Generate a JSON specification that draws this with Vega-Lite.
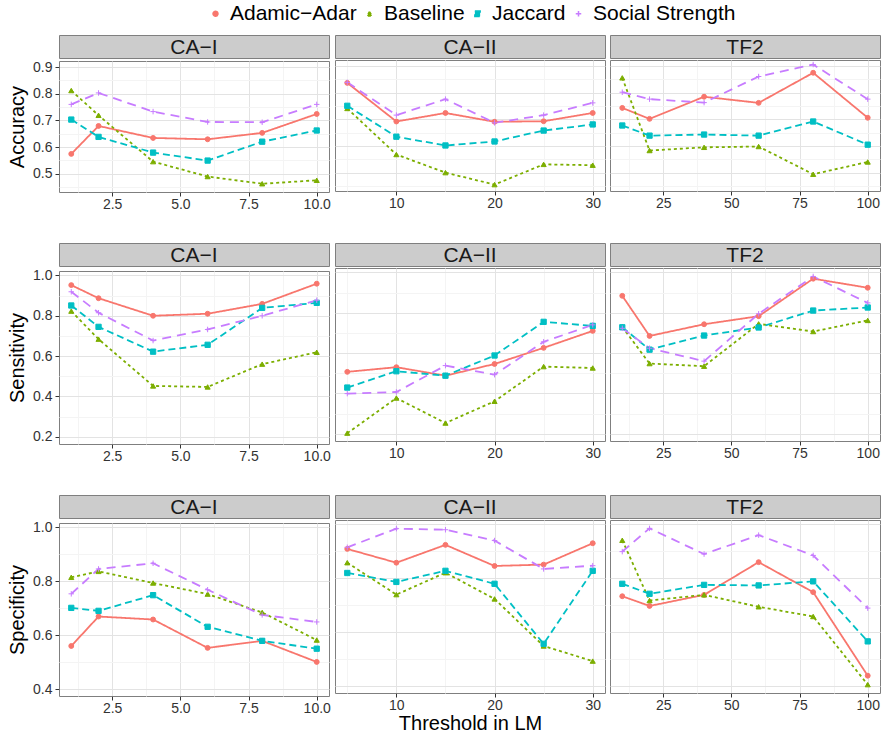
{
"$schema": "https://vega.github.io/schema/vega-lite/v6.json",
"padding": {"left": 7, "top": 3, "right": 2, "bottom": 2},
"background": "white",
"datasets": {"d": [
{"m":"Acc","s":"I","k":"Adamic−Adar","x":1,"v":0.574},{"m":"Acc","s":"I","k":"Adamic−Adar","x":2,"v":0.679},{"m":"Acc","s":"I","k":"Adamic−Adar","x":4,"v":0.634},{"m":"Acc","s":"I","k":"Adamic−Adar","x":6,"v":0.629},{"m":"Acc","s":"I","k":"Adamic−Adar","x":8,"v":0.653},{"m":"Acc","s":"I","k":"Adamic−Adar","x":10,"v":0.724},
{"m":"Acc","s":"I","k":"Baseline","x":1,"v":0.812},{"m":"Acc","s":"I","k":"Baseline","x":2,"v":0.719},{"m":"Acc","s":"I","k":"Baseline","x":4,"v":0.545},{"m":"Acc","s":"I","k":"Baseline","x":6,"v":0.489},{"m":"Acc","s":"I","k":"Baseline","x":8,"v":0.462},{"m":"Acc","s":"I","k":"Baseline","x":10,"v":0.475},
{"m":"Acc","s":"I","k":"Jaccard","x":1,"v":0.703},{"m":"Acc","s":"I","k":"Jaccard","x":2,"v":0.638},{"m":"Acc","s":"I","k":"Jaccard","x":4,"v":0.579},{"m":"Acc","s":"I","k":"Jaccard","x":6,"v":0.549},{"m":"Acc","s":"I","k":"Jaccard","x":8,"v":0.620},{"m":"Acc","s":"I","k":"Jaccard","x":10,"v":0.662},
{"m":"Acc","s":"I","k":"Social Strength","x":1,"v":0.760},{"m":"Acc","s":"I","k":"Social Strength","x":2,"v":0.803},{"m":"Acc","s":"I","k":"Social Strength","x":4,"v":0.733},{"m":"Acc","s":"I","k":"Social Strength","x":6,"v":0.694},{"m":"Acc","s":"I","k":"Social Strength","x":8,"v":0.693},{"m":"Acc","s":"I","k":"Social Strength","x":10,"v":0.760},
{"m":"Acc","s":"II","k":"Adamic−Adar","x":5,"v":0.837},{"m":"Acc","s":"II","k":"Adamic−Adar","x":10,"v":0.692},{"m":"Acc","s":"II","k":"Adamic−Adar","x":15,"v":0.724},{"m":"Acc","s":"II","k":"Adamic−Adar","x":20,"v":0.691},{"m":"Acc","s":"II","k":"Adamic−Adar","x":25,"v":0.693},{"m":"Acc","s":"II","k":"Adamic−Adar","x":30,"v":0.724},
{"m":"Acc","s":"II","k":"Baseline","x":5,"v":0.741},{"m":"Acc","s":"II","k":"Baseline","x":10,"v":0.568},{"m":"Acc","s":"II","k":"Baseline","x":15,"v":0.500},{"m":"Acc","s":"II","k":"Baseline","x":20,"v":0.455},{"m":"Acc","s":"II","k":"Baseline","x":25,"v":0.531},{"m":"Acc","s":"II","k":"Baseline","x":30,"v":0.528},
{"m":"Acc","s":"II","k":"Jaccard","x":5,"v":0.751},{"m":"Acc","s":"II","k":"Jaccard","x":10,"v":0.635},{"m":"Acc","s":"II","k":"Jaccard","x":15,"v":0.602},{"m":"Acc","s":"II","k":"Jaccard","x":20,"v":0.617},{"m":"Acc","s":"II","k":"Jaccard","x":25,"v":0.658},{"m":"Acc","s":"II","k":"Jaccard","x":30,"v":0.681},
{"m":"Acc","s":"II","k":"Social Strength","x":5,"v":0.839},{"m":"Acc","s":"II","k":"Social Strength","x":10,"v":0.716},{"m":"Acc","s":"II","k":"Social Strength","x":15,"v":0.776},{"m":"Acc","s":"II","k":"Social Strength","x":20,"v":0.687},{"m":"Acc","s":"II","k":"Social Strength","x":25,"v":0.716},{"m":"Acc","s":"II","k":"Social Strength","x":30,"v":0.762},
{"m":"Acc","s":"T","k":"Adamic−Adar","x":10,"v":0.743},{"m":"Acc","s":"T","k":"Adamic−Adar","x":20,"v":0.702},{"m":"Acc","s":"T","k":"Adamic−Adar","x":40,"v":0.785},{"m":"Acc","s":"T","k":"Adamic−Adar","x":60,"v":0.762},{"m":"Acc","s":"T","k":"Adamic−Adar","x":80,"v":0.875},{"m":"Acc","s":"T","k":"Adamic−Adar","x":100,"v":0.706},
{"m":"Acc","s":"T","k":"Baseline","x":10,"v":0.856},{"m":"Acc","s":"T","k":"Baseline","x":20,"v":0.583},{"m":"Acc","s":"T","k":"Baseline","x":40,"v":0.595},{"m":"Acc","s":"T","k":"Baseline","x":60,"v":0.598},{"m":"Acc","s":"T","k":"Baseline","x":80,"v":0.494},{"m":"Acc","s":"T","k":"Baseline","x":100,"v":0.540},
{"m":"Acc","s":"T","k":"Jaccard","x":10,"v":0.677},{"m":"Acc","s":"T","k":"Jaccard","x":20,"v":0.639},{"m":"Acc","s":"T","k":"Jaccard","x":40,"v":0.643},{"m":"Acc","s":"T","k":"Jaccard","x":60,"v":0.639},{"m":"Acc","s":"T","k":"Jaccard","x":80,"v":0.692},{"m":"Acc","s":"T","k":"Jaccard","x":100,"v":0.605},
{"m":"Acc","s":"T","k":"Social Strength","x":10,"v":0.802},{"m":"Acc","s":"T","k":"Social Strength","x":20,"v":0.776},{"m":"Acc","s":"T","k":"Social Strength","x":40,"v":0.763},{"m":"Acc","s":"T","k":"Social Strength","x":60,"v":0.861},{"m":"Acc","s":"T","k":"Social Strength","x":80,"v":0.906},{"m":"Acc","s":"T","k":"Social Strength","x":100,"v":0.776},
{"m":"Sen","s":"I","k":"Adamic−Adar","x":1,"v":0.952},{"m":"Sen","s":"I","k":"Adamic−Adar","x":2,"v":0.887},{"m":"Sen","s":"I","k":"Adamic−Adar","x":4,"v":0.800},{"m":"Sen","s":"I","k":"Adamic−Adar","x":6,"v":0.810},{"m":"Sen","s":"I","k":"Adamic−Adar","x":8,"v":0.859},{"m":"Sen","s":"I","k":"Adamic−Adar","x":10,"v":0.959},
{"m":"Sen","s":"I","k":"Baseline","x":1,"v":0.823},{"m":"Sen","s":"I","k":"Baseline","x":2,"v":0.684},{"m":"Sen","s":"I","k":"Baseline","x":4,"v":0.452},{"m":"Sen","s":"I","k":"Baseline","x":6,"v":0.447},{"m":"Sen","s":"I","k":"Baseline","x":8,"v":0.560},{"m":"Sen","s":"I","k":"Baseline","x":10,"v":0.619},
{"m":"Sen","s":"I","k":"Jaccard","x":1,"v":0.851},{"m":"Sen","s":"I","k":"Jaccard","x":2,"v":0.745},{"m":"Sen","s":"I","k":"Jaccard","x":4,"v":0.622},{"m":"Sen","s":"I","k":"Jaccard","x":6,"v":0.656},{"m":"Sen","s":"I","k":"Jaccard","x":8,"v":0.839},{"m":"Sen","s":"I","k":"Jaccard","x":10,"v":0.864},
{"m":"Sen","s":"I","k":"Social Strength","x":1,"v":0.919},{"m":"Sen","s":"I","k":"Social Strength","x":2,"v":0.815},{"m":"Sen","s":"I","k":"Social Strength","x":4,"v":0.677},{"m":"Sen","s":"I","k":"Social Strength","x":6,"v":0.732},{"m":"Sen","s":"I","k":"Social Strength","x":8,"v":0.800},{"m":"Sen","s":"I","k":"Social Strength","x":10,"v":0.877},
{"m":"Sen","s":"II","k":"Adamic−Adar","x":5,"v":0.507},{"m":"Sen","s":"II","k":"Adamic−Adar","x":10,"v":0.530},{"m":"Sen","s":"II","k":"Adamic−Adar","x":15,"v":0.488},{"m":"Sen","s":"II","k":"Adamic−Adar","x":20,"v":0.546},{"m":"Sen","s":"II","k":"Adamic−Adar","x":25,"v":0.626},{"m":"Sen","s":"II","k":"Adamic−Adar","x":30,"v":0.710},
{"m":"Sen","s":"II","k":"Baseline","x":5,"v":0.203},{"m":"Sen","s":"II","k":"Baseline","x":10,"v":0.377},{"m":"Sen","s":"II","k":"Baseline","x":15,"v":0.253},{"m":"Sen","s":"II","k":"Baseline","x":20,"v":0.361},{"m":"Sen","s":"II","k":"Baseline","x":25,"v":0.533},{"m":"Sen","s":"II","k":"Baseline","x":30,"v":0.526},
{"m":"Sen","s":"II","k":"Jaccard","x":5,"v":0.429},{"m":"Sen","s":"II","k":"Jaccard","x":10,"v":0.510},{"m":"Sen","s":"II","k":"Jaccard","x":15,"v":0.488},{"m":"Sen","s":"II","k":"Jaccard","x":20,"v":0.588},{"m":"Sen","s":"II","k":"Jaccard","x":25,"v":0.755},{"m":"Sen","s":"II","k":"Jaccard","x":30,"v":0.735},
{"m":"Sen","s":"II","k":"Social Strength","x":5,"v":0.399},{"m":"Sen","s":"II","k":"Social Strength","x":10,"v":0.407},{"m":"Sen","s":"II","k":"Social Strength","x":15,"v":0.538},{"m":"Sen","s":"II","k":"Social Strength","x":20,"v":0.493},{"m":"Sen","s":"II","k":"Social Strength","x":25,"v":0.656},{"m":"Sen","s":"II","k":"Social Strength","x":30,"v":0.740},
{"m":"Sen","s":"T","k":"Adamic−Adar","x":10,"v":0.884},{"m":"Sen","s":"T","k":"Adamic−Adar","x":20,"v":0.685},{"m":"Sen","s":"T","k":"Adamic−Adar","x":40,"v":0.743},{"m":"Sen","s":"T","k":"Adamic−Adar","x":60,"v":0.783},{"m":"Sen","s":"T","k":"Adamic−Adar","x":80,"v":0.969},{"m":"Sen","s":"T","k":"Adamic−Adar","x":100,"v":0.924},
{"m":"Sen","s":"T","k":"Baseline","x":10,"v":0.730},{"m":"Sen","s":"T","k":"Baseline","x":20,"v":0.548},{"m":"Sen","s":"T","k":"Baseline","x":40,"v":0.535},{"m":"Sen","s":"T","k":"Baseline","x":60,"v":0.745},{"m":"Sen","s":"T","k":"Baseline","x":80,"v":0.707},{"m":"Sen","s":"T","k":"Baseline","x":100,"v":0.762},
{"m":"Sen","s":"T","k":"Jaccard","x":10,"v":0.728},{"m":"Sen","s":"T","k":"Jaccard","x":20,"v":0.617},{"m":"Sen","s":"T","k":"Jaccard","x":40,"v":0.687},{"m":"Sen","s":"T","k":"Jaccard","x":60,"v":0.727},{"m":"Sen","s":"T","k":"Jaccard","x":80,"v":0.811},{"m":"Sen","s":"T","k":"Jaccard","x":100,"v":0.826},
{"m":"Sen","s":"T","k":"Social Strength","x":10,"v":0.723},{"m":"Sen","s":"T","k":"Social Strength","x":20,"v":0.624},{"m":"Sen","s":"T","k":"Social Strength","x":40,"v":0.560},{"m":"Sen","s":"T","k":"Social Strength","x":60,"v":0.795},{"m":"Sen","s":"T","k":"Social Strength","x":80,"v":0.980},{"m":"Sen","s":"T","k":"Social Strength","x":100,"v":0.849},
{"m":"Spe","s":"I","k":"Adamic−Adar","x":1,"v":0.560},{"m":"Spe","s":"I","k":"Adamic−Adar","x":2,"v":0.669},{"m":"Spe","s":"I","k":"Adamic−Adar","x":4,"v":0.658},{"m":"Spe","s":"I","k":"Adamic−Adar","x":6,"v":0.553},{"m":"Spe","s":"I","k":"Adamic−Adar","x":8,"v":0.579},{"m":"Spe","s":"I","k":"Adamic−Adar","x":10,"v":0.501},
{"m":"Spe","s":"I","k":"Baseline","x":1,"v":0.814},{"m":"Spe","s":"I","k":"Baseline","x":2,"v":0.836},{"m":"Spe","s":"I","k":"Baseline","x":4,"v":0.793},{"m":"Spe","s":"I","k":"Baseline","x":6,"v":0.752},{"m":"Spe","s":"I","k":"Baseline","x":8,"v":0.684},{"m":"Spe","s":"I","k":"Baseline","x":10,"v":0.582},
{"m":"Spe","s":"I","k":"Jaccard","x":1,"v":0.701},{"m":"Spe","s":"I","k":"Jaccard","x":2,"v":0.690},{"m":"Spe","s":"I","k":"Jaccard","x":4,"v":0.748},{"m":"Spe","s":"I","k":"Jaccard","x":6,"v":0.631},{"m":"Spe","s":"I","k":"Jaccard","x":8,"v":0.579},{"m":"Spe","s":"I","k":"Jaccard","x":10,"v":0.550},
{"m":"Spe","s":"I","k":"Social Strength","x":1,"v":0.753},{"m":"Spe","s":"I","k":"Social Strength","x":2,"v":0.845},{"m":"Spe","s":"I","k":"Social Strength","x":4,"v":0.866},{"m":"Spe","s":"I","k":"Social Strength","x":6,"v":0.768},{"m":"Spe","s":"I","k":"Social Strength","x":8,"v":0.675},{"m":"Spe","s":"I","k":"Social Strength","x":10,"v":0.649},
{"m":"Spe","s":"II","k":"Adamic−Adar","x":5,"v":0.908},{"m":"Spe","s":"II","k":"Adamic−Adar","x":10,"v":0.857},{"m":"Spe","s":"II","k":"Adamic−Adar","x":15,"v":0.923},{"m":"Spe","s":"II","k":"Adamic−Adar","x":20,"v":0.845},{"m":"Spe","s":"II","k":"Adamic−Adar","x":25,"v":0.850},{"m":"Spe","s":"II","k":"Adamic−Adar","x":30,"v":0.929},
{"m":"Spe","s":"II","k":"Baseline","x":5,"v":0.857},{"m":"Spe","s":"II","k":"Baseline","x":10,"v":0.739},{"m":"Spe","s":"II","k":"Baseline","x":15,"v":0.820},{"m":"Spe","s":"II","k":"Baseline","x":20,"v":0.723},{"m":"Spe","s":"II","k":"Baseline","x":25,"v":0.549},{"m":"Spe","s":"II","k":"Baseline","x":30,"v":0.493},
{"m":"Spe","s":"II","k":"Jaccard","x":5,"v":0.819},{"m":"Spe","s":"II","k":"Jaccard","x":10,"v":0.786},{"m":"Spe","s":"II","k":"Jaccard","x":15,"v":0.827},{"m":"Spe","s":"II","k":"Jaccard","x":20,"v":0.779},{"m":"Spe","s":"II","k":"Jaccard","x":25,"v":0.557},{"m":"Spe","s":"II","k":"Jaccard","x":30,"v":0.827},
{"m":"Spe","s":"II","k":"Social Strength","x":5,"v":0.914},{"m":"Spe","s":"II","k":"Social Strength","x":10,"v":0.983},{"m":"Spe","s":"II","k":"Social Strength","x":15,"v":0.979},{"m":"Spe","s":"II","k":"Social Strength","x":20,"v":0.939},{"m":"Spe","s":"II","k":"Social Strength","x":25,"v":0.834},{"m":"Spe","s":"II","k":"Social Strength","x":30,"v":0.846},
{"m":"Spe","s":"T","k":"Adamic−Adar","x":10,"v":0.733},{"m":"Spe","s":"T","k":"Adamic−Adar","x":20,"v":0.697},{"m":"Spe","s":"T","k":"Adamic−Adar","x":40,"v":0.738},{"m":"Spe","s":"T","k":"Adamic−Adar","x":60,"v":0.859},{"m":"Spe","s":"T","k":"Adamic−Adar","x":80,"v":0.748},{"m":"Spe","s":"T","k":"Adamic−Adar","x":100,"v":0.439},
{"m":"Spe","s":"T","k":"Baseline","x":10,"v":0.940},{"m":"Spe","s":"T","k":"Baseline","x":20,"v":0.717},{"m":"Spe","s":"T","k":"Baseline","x":40,"v":0.738},{"m":"Spe","s":"T","k":"Baseline","x":60,"v":0.694},{"m":"Spe","s":"T","k":"Baseline","x":80,"v":0.658},{"m":"Spe","s":"T","k":"Baseline","x":100,"v":0.406},
{"m":"Spe","s":"T","k":"Jaccard","x":10,"v":0.779},{"m":"Spe","s":"T","k":"Jaccard","x":20,"v":0.742},{"m":"Spe","s":"T","k":"Jaccard","x":40,"v":0.775},{"m":"Spe","s":"T","k":"Jaccard","x":60,"v":0.773},{"m":"Spe","s":"T","k":"Jaccard","x":80,"v":0.788},{"m":"Spe","s":"T","k":"Jaccard","x":100,"v":0.566},
{"m":"Spe","s":"T","k":"Social Strength","x":10,"v":0.898},{"m":"Spe","s":"T","k":"Social Strength","x":20,"v":0.984},{"m":"Spe","s":"T","k":"Social Strength","x":40,"v":0.889},{"m":"Spe","s":"T","k":"Social Strength","x":60,"v":0.959},{"m":"Spe","s":"T","k":"Social Strength","x":80,"v":0.884},{"m":"Spe","s":"T","k":"Social Strength","x":100,"v":0.689}
]},
"vconcat": [
{"hconcat": [
 {"vconcat": [
  {"width":270,"height":23,"data":{"values":[{"t":"CA−I"}]},"mark":{"type":"text","fontSize":21,"color":"#1A1A1A","dy":1},"encoding":{"text":{"field":"t"}},"view":{"fill":"#CCCCCC","stroke":"#7F7F7F"}},
  {"width":270,"height":131,"data":{"name":"d"},"transform":[{"filter":"datum.m=='Acc' && datum.s=='I'"}],"view":{"stroke":"#7F7F7F","fill":"white"},
   "encoding":{
    "x":{"field":"x","type":"quantitative","scale":{"domain":[0.55,10.45],"nice":false,"zero":false},"axis":{"title":null,"values":[1.25,2.5,3.75,5,6.25,7.5,8.75,10],"labelExpr":"datum.value % 2.5 == 0 ? format(datum.value,'.1f') : ''","gridColor":{"condition":{"test":"datum.value % 2.5 == 0","value":"#E3E3E3"},"value":"#F4F4F4"},"tickOpacity":{"condition":{"test":"datum.value % 2.5 == 0","value":1},"value":0}}},
    "y":{"field":"v","type":"quantitative","scale":{"domain":[0.431,0.923],"nice":false,"zero":false},"axis":{"title":"Accuracy","values":[0.45,0.5,0.55,0.6,0.65,0.7,0.75,0.8,0.85,0.9],"labelExpr":"abs(datum.value*10-round(datum.value*10))<0.001 ? format(datum.value,'.1f') : ''","gridColor":{"condition":{"test":"abs(datum.value*10-round(datum.value*10))<0.001","value":"#E3E3E3"},"value":"#F4F4F4"},"tickOpacity":{"condition":{"test":"abs(datum.value*10-round(datum.value*10))<0.001","value":1},"value":0}}},
    "color":{"field":"k","type":"nominal","scale":{"domain":["Adamic−Adar","Baseline","Jaccard","Social Strength"],"range":["#F8766D","#7CAE00","#00BFC4","#C77CFF"]},"legend":{"title":null}}
   },
   "layer":[
    {"mark":{"type":"line","strokeWidth":1.8},"encoding":{"strokeDash":{"field":"k","type":"nominal","scale":{"domain":["Adamic−Adar","Baseline","Jaccard","Social Strength"],"range":[[1,0],[3,3],[7,4],[9,6]]},"legend":null}}},
    {"mark":{"type":"point","filled":true,"opacity":1,"strokeWidth":1},"encoding":{"shape":{"field":"k","type":"nominal","scale":{"domain":["Adamic−Adar","Baseline","Jaccard","Social Strength"],"range":["circle","triangle-up","square","M-1,0H1M0,-1V1"]},"legend":{"title":null}},"stroke":{"field":"k","type":"nominal","scale":{"domain":["Adamic−Adar","Baseline","Jaccard","Social Strength"],"range":["#F8766D","#7CAE00","#00BFC4","#C77CFF"]},"legend":{"title":null}},"size":{"field":"k","type":"nominal","scale":{"domain":["Adamic−Adar","Baseline","Jaccard","Social Strength"],"range":[24,30,28,90]},"legend":null}}}
   ]}
 ], "spacing": 0},
 {"vconcat": [
  {"width":270,"height":23,"data":{"values":[{"t":"CA−II"}]},"mark":{"type":"text","fontSize":21,"color":"#1A1A1A","dy":1},"encoding":{"text":{"field":"t"}},"view":{"fill":"#CCCCCC","stroke":"#7F7F7F"}},
  {"width":270,"height":131,"data":{"name":"d"},"transform":[{"filter":"datum.m=='Acc' && datum.s=='II'"}],"view":{"stroke":"#7F7F7F","fill":"white"},
   "encoding":{
    "x":{"field":"x","type":"quantitative","scale":{"domain":[3.75,31.25],"nice":false,"zero":false},"axis":{"title":null,"values":[5,10,15,20,25,30],"labelExpr":"datum.value % 10 == 0 ? format(datum.value,'d') : ''","gridColor":{"condition":{"test":"datum.value % 10 == 0","value":"#E3E3E3"},"value":"#F4F4F4"},"tickOpacity":{"condition":{"test":"datum.value % 10 == 0","value":1},"value":0}}},
    "y":{"field":"v","type":"quantitative","scale":{"domain":[0.431,0.923],"nice":false,"zero":false},"axis":{"title":null,"labels":false,"ticks":false,"values":[0.45,0.5,0.55,0.6,0.65,0.7,0.75,0.8,0.85,0.9],"gridColor":{"condition":{"test":"abs(datum.value*10-round(datum.value*10))<0.001","value":"#E3E3E3"},"value":"#F4F4F4"}}},
    "color":{"field":"k","type":"nominal","scale":{"domain":["Adamic−Adar","Baseline","Jaccard","Social Strength"],"range":["#F8766D","#7CAE00","#00BFC4","#C77CFF"]},"legend":{"title":null}}
   },
   "layer":[
    {"mark":{"type":"line","strokeWidth":1.8},"encoding":{"strokeDash":{"field":"k","type":"nominal","scale":{"domain":["Adamic−Adar","Baseline","Jaccard","Social Strength"],"range":[[1,0],[3,3],[7,4],[9,6]]},"legend":null}}},
    {"mark":{"type":"point","filled":true,"opacity":1,"strokeWidth":1},"encoding":{"shape":{"field":"k","type":"nominal","scale":{"domain":["Adamic−Adar","Baseline","Jaccard","Social Strength"],"range":["circle","triangle-up","square","M-1,0H1M0,-1V1"]},"legend":{"title":null}},"stroke":{"field":"k","type":"nominal","scale":{"domain":["Adamic−Adar","Baseline","Jaccard","Social Strength"],"range":["#F8766D","#7CAE00","#00BFC4","#C77CFF"]},"legend":{"title":null}},"size":{"field":"k","type":"nominal","scale":{"domain":["Adamic−Adar","Baseline","Jaccard","Social Strength"],"range":[24,30,28,90]},"legend":null}}}
   ]}
 ], "spacing": 0},
 {"vconcat": [
  {"width":270,"height":23,"data":{"values":[{"t":"TF2"}]},"mark":{"type":"text","fontSize":21,"color":"#1A1A1A","dy":1},"encoding":{"text":{"field":"t"}},"view":{"fill":"#CCCCCC","stroke":"#7F7F7F"}},
  {"width":270,"height":131,"data":{"name":"d"},"transform":[{"filter":"datum.m=='Acc' && datum.s=='T'"}],"view":{"stroke":"#7F7F7F","fill":"white"},
   "encoding":{
    "x":{"field":"x","type":"quantitative","scale":{"domain":[5.5,104.5],"nice":false,"zero":false},"axis":{"title":null,"values":[12.5,25,37.5,50,62.5,75,87.5,100],"labelExpr":"datum.value % 25 == 0 ? format(datum.value,'d') : ''","gridColor":{"condition":{"test":"datum.value % 25 == 0","value":"#E3E3E3"},"value":"#F4F4F4"},"tickOpacity":{"condition":{"test":"datum.value % 25 == 0","value":1},"value":0}}},
    "y":{"field":"v","type":"quantitative","scale":{"domain":[0.431,0.923],"nice":false,"zero":false},"axis":{"title":null,"labels":false,"ticks":false,"values":[0.45,0.5,0.55,0.6,0.65,0.7,0.75,0.8,0.85,0.9],"gridColor":{"condition":{"test":"abs(datum.value*10-round(datum.value*10))<0.001","value":"#E3E3E3"},"value":"#F4F4F4"}}},
    "color":{"field":"k","type":"nominal","scale":{"domain":["Adamic−Adar","Baseline","Jaccard","Social Strength"],"range":["#F8766D","#7CAE00","#00BFC4","#C77CFF"]},"legend":{"title":null}}
   },
   "layer":[
    {"mark":{"type":"line","strokeWidth":1.8},"encoding":{"strokeDash":{"field":"k","type":"nominal","scale":{"domain":["Adamic−Adar","Baseline","Jaccard","Social Strength"],"range":[[1,0],[3,3],[7,4],[9,6]]},"legend":null}}},
    {"mark":{"type":"point","filled":true,"opacity":1,"strokeWidth":1},"encoding":{"shape":{"field":"k","type":"nominal","scale":{"domain":["Adamic−Adar","Baseline","Jaccard","Social Strength"],"range":["circle","triangle-up","square","M-1,0H1M0,-1V1"]},"legend":{"title":null}},"stroke":{"field":"k","type":"nominal","scale":{"domain":["Adamic−Adar","Baseline","Jaccard","Social Strength"],"range":["#F8766D","#7CAE00","#00BFC4","#C77CFF"]},"legend":{"title":null}},"size":{"field":"k","type":"nominal","scale":{"domain":["Adamic−Adar","Baseline","Jaccard","Social Strength"],"range":[24,30,28,90]},"legend":null}}}
   ]}
 ], "spacing": 0}
], "spacing": 3},
{"hconcat": [
 {"vconcat": [
  {"width":270,"height":23,"data":{"values":[{"t":"CA−I"}]},"mark":{"type":"text","fontSize":21,"color":"#1A1A1A","dy":1},"encoding":{"text":{"field":"t"}},"view":{"fill":"#CCCCCC","stroke":"#7F7F7F"}},
  {"width":270,"height":173,"data":{"name":"d"},"transform":[{"filter":"datum.m=='Sen' && datum.s=='I'"}],"view":{"stroke":"#7F7F7F","fill":"white"},
   "encoding":{
    "x":{"field":"x","type":"quantitative","scale":{"domain":[0.55,10.45],"nice":false,"zero":false},"axis":{"title":null,"values":[1.25,2.5,3.75,5,6.25,7.5,8.75,10],"labelExpr":"datum.value % 2.5 == 0 ? format(datum.value,'.1f') : ''","gridColor":{"condition":{"test":"datum.value % 2.5 == 0","value":"#E3E3E3"},"value":"#F4F4F4"},"tickOpacity":{"condition":{"test":"datum.value % 2.5 == 0","value":1},"value":0}}},
    "y":{"field":"v","type":"quantitative","scale":{"domain":[0.164,1.022],"nice":false,"zero":false},"axis":{"title":"Sensitivity","values":[0.2,0.3,0.4,0.5,0.6,0.7,0.8,0.9,1.0],"labelExpr":"abs(datum.value*5-round(datum.value*5))<0.001 ? format(datum.value,'.1f') : ''","gridColor":{"condition":{"test":"abs(datum.value*5-round(datum.value*5))<0.001","value":"#E3E3E3"},"value":"#F4F4F4"},"tickOpacity":{"condition":{"test":"abs(datum.value*5-round(datum.value*5))<0.001","value":1},"value":0}}},
    "color":{"field":"k","type":"nominal","scale":{"domain":["Adamic−Adar","Baseline","Jaccard","Social Strength"],"range":["#F8766D","#7CAE00","#00BFC4","#C77CFF"]},"legend":{"title":null}}
   },
   "layer":[
    {"mark":{"type":"line","strokeWidth":1.8},"encoding":{"strokeDash":{"field":"k","type":"nominal","scale":{"domain":["Adamic−Adar","Baseline","Jaccard","Social Strength"],"range":[[1,0],[3,3],[7,4],[9,6]]},"legend":null}}},
    {"mark":{"type":"point","filled":true,"opacity":1,"strokeWidth":1},"encoding":{"shape":{"field":"k","type":"nominal","scale":{"domain":["Adamic−Adar","Baseline","Jaccard","Social Strength"],"range":["circle","triangle-up","square","M-1,0H1M0,-1V1"]},"legend":{"title":null}},"stroke":{"field":"k","type":"nominal","scale":{"domain":["Adamic−Adar","Baseline","Jaccard","Social Strength"],"range":["#F8766D","#7CAE00","#00BFC4","#C77CFF"]},"legend":{"title":null}},"size":{"field":"k","type":"nominal","scale":{"domain":["Adamic−Adar","Baseline","Jaccard","Social Strength"],"range":[24,30,28,90]},"legend":null}}}
   ]}
 ], "spacing": 0},
 {"vconcat": [
  {"width":270,"height":23,"data":{"values":[{"t":"CA−II"}]},"mark":{"type":"text","fontSize":21,"color":"#1A1A1A","dy":1},"encoding":{"text":{"field":"t"}},"view":{"fill":"#CCCCCC","stroke":"#7F7F7F"}},
  {"width":270,"height":173,"data":{"name":"d"},"transform":[{"filter":"datum.m=='Sen' && datum.s=='II'"}],"view":{"stroke":"#7F7F7F","fill":"white"},
   "encoding":{
    "x":{"field":"x","type":"quantitative","scale":{"domain":[3.75,31.25],"nice":false,"zero":false},"axis":{"title":null,"values":[5,10,15,20,25,30],"labelExpr":"datum.value % 10 == 0 ? format(datum.value,'d') : ''","gridColor":{"condition":{"test":"datum.value % 10 == 0","value":"#E3E3E3"},"value":"#F4F4F4"},"tickOpacity":{"condition":{"test":"datum.value % 10 == 0","value":1},"value":0}}},
    "y":{"field":"v","type":"quantitative","scale":{"domain":[0.164,1.022],"nice":false,"zero":false},"axis":{"title":null,"labels":false,"ticks":false,"values":[0.2,0.3,0.4,0.5,0.6,0.7,0.8,0.9,1.0],"gridColor":{"condition":{"test":"abs(datum.value*5-round(datum.value*5))<0.001","value":"#E3E3E3"},"value":"#F4F4F4"}}},
    "color":{"field":"k","type":"nominal","scale":{"domain":["Adamic−Adar","Baseline","Jaccard","Social Strength"],"range":["#F8766D","#7CAE00","#00BFC4","#C77CFF"]},"legend":{"title":null}}
   },
   "layer":[
    {"mark":{"type":"line","strokeWidth":1.8},"encoding":{"strokeDash":{"field":"k","type":"nominal","scale":{"domain":["Adamic−Adar","Baseline","Jaccard","Social Strength"],"range":[[1,0],[3,3],[7,4],[9,6]]},"legend":null}}},
    {"mark":{"type":"point","filled":true,"opacity":1,"strokeWidth":1},"encoding":{"shape":{"field":"k","type":"nominal","scale":{"domain":["Adamic−Adar","Baseline","Jaccard","Social Strength"],"range":["circle","triangle-up","square","M-1,0H1M0,-1V1"]},"legend":{"title":null}},"stroke":{"field":"k","type":"nominal","scale":{"domain":["Adamic−Adar","Baseline","Jaccard","Social Strength"],"range":["#F8766D","#7CAE00","#00BFC4","#C77CFF"]},"legend":{"title":null}},"size":{"field":"k","type":"nominal","scale":{"domain":["Adamic−Adar","Baseline","Jaccard","Social Strength"],"range":[24,30,28,90]},"legend":null}}}
   ]}
 ], "spacing": 0},
 {"vconcat": [
  {"width":270,"height":23,"data":{"values":[{"t":"TF2"}]},"mark":{"type":"text","fontSize":21,"color":"#1A1A1A","dy":1},"encoding":{"text":{"field":"t"}},"view":{"fill":"#CCCCCC","stroke":"#7F7F7F"}},
  {"width":270,"height":173,"data":{"name":"d"},"transform":[{"filter":"datum.m=='Sen' && datum.s=='T'"}],"view":{"stroke":"#7F7F7F","fill":"white"},
   "encoding":{
    "x":{"field":"x","type":"quantitative","scale":{"domain":[5.5,104.5],"nice":false,"zero":false},"axis":{"title":null,"values":[12.5,25,37.5,50,62.5,75,87.5,100],"labelExpr":"datum.value % 25 == 0 ? format(datum.value,'d') : ''","gridColor":{"condition":{"test":"datum.value % 25 == 0","value":"#E3E3E3"},"value":"#F4F4F4"},"tickOpacity":{"condition":{"test":"datum.value % 25 == 0","value":1},"value":0}}},
    "y":{"field":"v","type":"quantitative","scale":{"domain":[0.164,1.022],"nice":false,"zero":false},"axis":{"title":null,"labels":false,"ticks":false,"values":[0.2,0.3,0.4,0.5,0.6,0.7,0.8,0.9,1.0],"gridColor":{"condition":{"test":"abs(datum.value*5-round(datum.value*5))<0.001","value":"#E3E3E3"},"value":"#F4F4F4"}}},
    "color":{"field":"k","type":"nominal","scale":{"domain":["Adamic−Adar","Baseline","Jaccard","Social Strength"],"range":["#F8766D","#7CAE00","#00BFC4","#C77CFF"]},"legend":{"title":null}}
   },
   "layer":[
    {"mark":{"type":"line","strokeWidth":1.8},"encoding":{"strokeDash":{"field":"k","type":"nominal","scale":{"domain":["Adamic−Adar","Baseline","Jaccard","Social Strength"],"range":[[1,0],[3,3],[7,4],[9,6]]},"legend":null}}},
    {"mark":{"type":"point","filled":true,"opacity":1,"strokeWidth":1},"encoding":{"shape":{"field":"k","type":"nominal","scale":{"domain":["Adamic−Adar","Baseline","Jaccard","Social Strength"],"range":["circle","triangle-up","square","M-1,0H1M0,-1V1"]},"legend":{"title":null}},"stroke":{"field":"k","type":"nominal","scale":{"domain":["Adamic−Adar","Baseline","Jaccard","Social Strength"],"range":["#F8766D","#7CAE00","#00BFC4","#C77CFF"]},"legend":{"title":null}},"size":{"field":"k","type":"nominal","scale":{"domain":["Adamic−Adar","Baseline","Jaccard","Social Strength"],"range":[24,30,28,90]},"legend":null}}}
   ]}
 ], "spacing": 0}
], "spacing": 3},
{"hconcat": [
 {"vconcat": [
  {"width":270,"height":23,"data":{"values":[{"t":"CA−I"}]},"mark":{"type":"text","fontSize":21,"color":"#1A1A1A","dy":1},"encoding":{"text":{"field":"t"}},"view":{"fill":"#CCCCCC","stroke":"#7F7F7F"}},
  {"width":270,"height":173,"data":{"name":"d"},"transform":[{"filter":"datum.m=='Spe' && datum.s=='I'"}],"view":{"stroke":"#7F7F7F","fill":"white"},
   "encoding":{
    "x":{"field":"x","type":"quantitative","scale":{"domain":[0.55,10.45],"nice":false,"zero":false},"axis":{"title":null,"values":[1.25,2.5,3.75,5,6.25,7.5,8.75,10],"labelExpr":"datum.value % 2.5 == 0 ? format(datum.value,'.1f') : ''","gridColor":{"condition":{"test":"datum.value % 2.5 == 0","value":"#E3E3E3"},"value":"#F4F4F4"},"tickOpacity":{"condition":{"test":"datum.value % 2.5 == 0","value":1},"value":0}}},
    "y":{"field":"v","type":"quantitative","scale":{"domain":[0.375,1.015],"nice":false,"zero":false},"axis":{"title":"Specificity","values":[0.4,0.5,0.6,0.7,0.8,0.9,1.0],"labelExpr":"abs(datum.value*5-round(datum.value*5))<0.001 ? format(datum.value,'.1f') : ''","gridColor":{"condition":{"test":"abs(datum.value*5-round(datum.value*5))<0.001","value":"#E3E3E3"},"value":"#F4F4F4"},"tickOpacity":{"condition":{"test":"abs(datum.value*5-round(datum.value*5))<0.001","value":1},"value":0}}},
    "color":{"field":"k","type":"nominal","scale":{"domain":["Adamic−Adar","Baseline","Jaccard","Social Strength"],"range":["#F8766D","#7CAE00","#00BFC4","#C77CFF"]},"legend":{"title":null}}
   },
   "layer":[
    {"mark":{"type":"line","strokeWidth":1.8},"encoding":{"strokeDash":{"field":"k","type":"nominal","scale":{"domain":["Adamic−Adar","Baseline","Jaccard","Social Strength"],"range":[[1,0],[3,3],[7,4],[9,6]]},"legend":null}}},
    {"mark":{"type":"point","filled":true,"opacity":1,"strokeWidth":1},"encoding":{"shape":{"field":"k","type":"nominal","scale":{"domain":["Adamic−Adar","Baseline","Jaccard","Social Strength"],"range":["circle","triangle-up","square","M-1,0H1M0,-1V1"]},"legend":{"title":null}},"stroke":{"field":"k","type":"nominal","scale":{"domain":["Adamic−Adar","Baseline","Jaccard","Social Strength"],"range":["#F8766D","#7CAE00","#00BFC4","#C77CFF"]},"legend":{"title":null}},"size":{"field":"k","type":"nominal","scale":{"domain":["Adamic−Adar","Baseline","Jaccard","Social Strength"],"range":[24,30,28,90]},"legend":null}}}
   ]}
 ], "spacing": 0},
 {"vconcat": [
  {"width":270,"height":23,"data":{"values":[{"t":"CA−II"}]},"mark":{"type":"text","fontSize":21,"color":"#1A1A1A","dy":1},"encoding":{"text":{"field":"t"}},"view":{"fill":"#CCCCCC","stroke":"#7F7F7F"}},
  {"width":270,"height":173,"data":{"name":"d"},"transform":[{"filter":"datum.m=='Spe' && datum.s=='II'"}],"view":{"stroke":"#7F7F7F","fill":"white"},
   "encoding":{
    "x":{"field":"x","type":"quantitative","scale":{"domain":[3.75,31.25],"nice":false,"zero":false},"axis":{"title":"Threshold in LM","values":[5,10,15,20,25,30],"labelExpr":"datum.value % 10 == 0 ? format(datum.value,'d') : ''","gridColor":{"condition":{"test":"datum.value % 10 == 0","value":"#E3E3E3"},"value":"#F4F4F4"},"tickOpacity":{"condition":{"test":"datum.value % 10 == 0","value":1},"value":0}}},
    "y":{"field":"v","type":"quantitative","scale":{"domain":[0.375,1.015],"nice":false,"zero":false},"axis":{"title":null,"labels":false,"ticks":false,"values":[0.4,0.5,0.6,0.7,0.8,0.9,1.0],"gridColor":{"condition":{"test":"abs(datum.value*5-round(datum.value*5))<0.001","value":"#E3E3E3"},"value":"#F4F4F4"}}},
    "color":{"field":"k","type":"nominal","scale":{"domain":["Adamic−Adar","Baseline","Jaccard","Social Strength"],"range":["#F8766D","#7CAE00","#00BFC4","#C77CFF"]},"legend":{"title":null}}
   },
   "layer":[
    {"mark":{"type":"line","strokeWidth":1.8},"encoding":{"strokeDash":{"field":"k","type":"nominal","scale":{"domain":["Adamic−Adar","Baseline","Jaccard","Social Strength"],"range":[[1,0],[3,3],[7,4],[9,6]]},"legend":null}}},
    {"mark":{"type":"point","filled":true,"opacity":1,"strokeWidth":1},"encoding":{"shape":{"field":"k","type":"nominal","scale":{"domain":["Adamic−Adar","Baseline","Jaccard","Social Strength"],"range":["circle","triangle-up","square","M-1,0H1M0,-1V1"]},"legend":{"title":null}},"stroke":{"field":"k","type":"nominal","scale":{"domain":["Adamic−Adar","Baseline","Jaccard","Social Strength"],"range":["#F8766D","#7CAE00","#00BFC4","#C77CFF"]},"legend":{"title":null}},"size":{"field":"k","type":"nominal","scale":{"domain":["Adamic−Adar","Baseline","Jaccard","Social Strength"],"range":[24,30,28,90]},"legend":null}}}
   ]}
 ], "spacing": 0},
 {"vconcat": [
  {"width":270,"height":23,"data":{"values":[{"t":"TF2"}]},"mark":{"type":"text","fontSize":21,"color":"#1A1A1A","dy":1},"encoding":{"text":{"field":"t"}},"view":{"fill":"#CCCCCC","stroke":"#7F7F7F"}},
  {"width":270,"height":173,"data":{"name":"d"},"transform":[{"filter":"datum.m=='Spe' && datum.s=='T'"}],"view":{"stroke":"#7F7F7F","fill":"white"},
   "encoding":{
    "x":{"field":"x","type":"quantitative","scale":{"domain":[5.5,104.5],"nice":false,"zero":false},"axis":{"title":null,"values":[12.5,25,37.5,50,62.5,75,87.5,100],"labelExpr":"datum.value % 25 == 0 ? format(datum.value,'d') : ''","gridColor":{"condition":{"test":"datum.value % 25 == 0","value":"#E3E3E3"},"value":"#F4F4F4"},"tickOpacity":{"condition":{"test":"datum.value % 25 == 0","value":1},"value":0}}},
    "y":{"field":"v","type":"quantitative","scale":{"domain":[0.375,1.015],"nice":false,"zero":false},"axis":{"title":null,"labels":false,"ticks":false,"values":[0.4,0.5,0.6,0.7,0.8,0.9,1.0],"gridColor":{"condition":{"test":"abs(datum.value*5-round(datum.value*5))<0.001","value":"#E3E3E3"},"value":"#F4F4F4"}}},
    "color":{"field":"k","type":"nominal","scale":{"domain":["Adamic−Adar","Baseline","Jaccard","Social Strength"],"range":["#F8766D","#7CAE00","#00BFC4","#C77CFF"]},"legend":{"title":null}}
   },
   "layer":[
    {"mark":{"type":"line","strokeWidth":1.8},"encoding":{"strokeDash":{"field":"k","type":"nominal","scale":{"domain":["Adamic−Adar","Baseline","Jaccard","Social Strength"],"range":[[1,0],[3,3],[7,4],[9,6]]},"legend":null}}},
    {"mark":{"type":"point","filled":true,"opacity":1,"strokeWidth":1},"encoding":{"shape":{"field":"k","type":"nominal","scale":{"domain":["Adamic−Adar","Baseline","Jaccard","Social Strength"],"range":["circle","triangle-up","square","M-1,0H1M0,-1V1"]},"legend":{"title":null}},"stroke":{"field":"k","type":"nominal","scale":{"domain":["Adamic−Adar","Baseline","Jaccard","Social Strength"],"range":["#F8766D","#7CAE00","#00BFC4","#C77CFF"]},"legend":{"title":null}},"size":{"field":"k","type":"nominal","scale":{"domain":["Adamic−Adar","Baseline","Jaccard","Social Strength"],"range":[24,30,28,90]},"legend":null}}}
   ]}
 ], "spacing": 0}
], "spacing": 3}
],
"spacing": 30,
"config": {
 "font": "Liberation Sans",
 "view": {"stroke": "#7F7F7F"},
 "axis": {"domain": false, "tickColor": "#333333", "tickSize": 4, "labelFontSize": 14, "labelColor": "#333333", "labelFlush": false, "labelOverlap": false, "titleFontSize": 20, "titleFontWeight": "normal", "titleColor": "#000000", "gridWidth": 1},
 "axisY": {"titlePadding": 5, "labelPadding": 3},
 "axisX": {"titlePadding": 1, "labelPadding": 1},
 "legend": {"orient": "none", "legendX": 146, "legendY": -32, "padding": 0, "direction": "horizontal", "labelFontSize": 21, "labelColor": "#000000", "symbolSize": 60, "columnPadding": 2, "labelOffset": 4}
}
}
